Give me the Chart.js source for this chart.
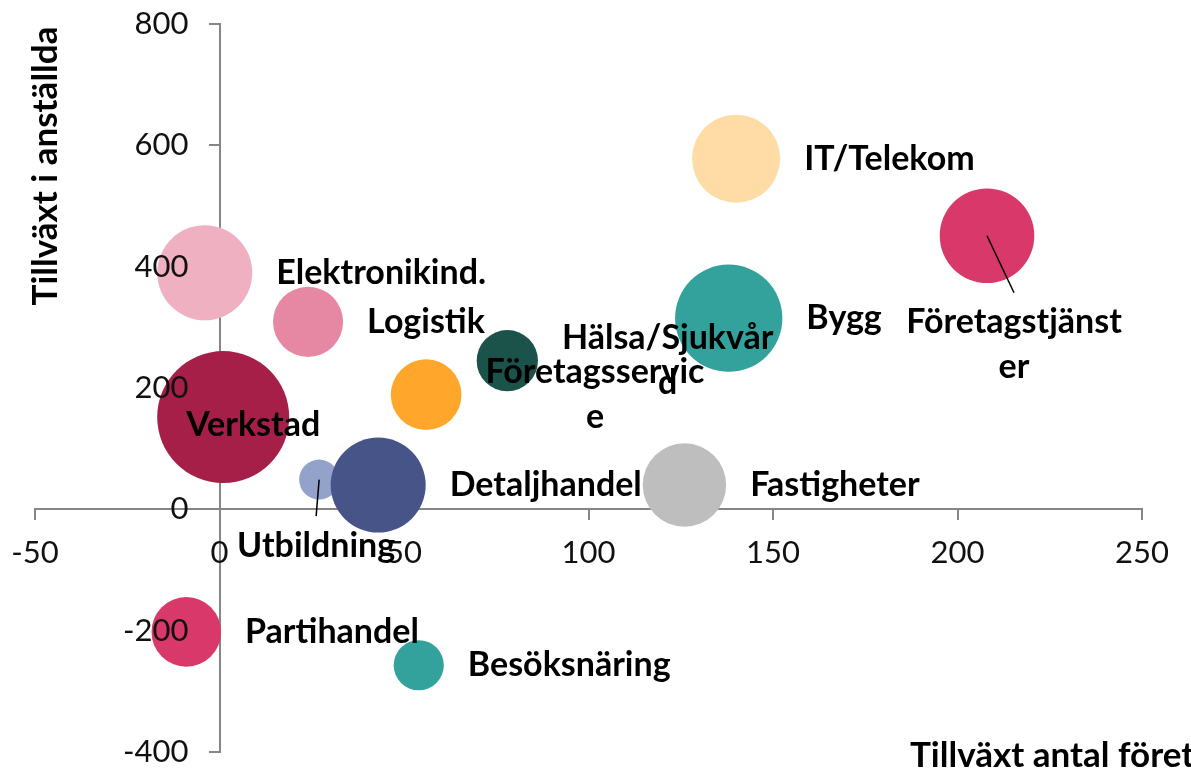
<!DOCTYPE html>
<html>
<head>
<meta charset="utf-8">
<script src="https://cdn.jsdelivr.net/npm/chart.js@4/dist/chart.umd.min.js"></script>
<style>
  html, body { margin: 0; padding: 0; background: #fff; }
  #wrap { width: 1191px; height: 769px; }
</style>
</head>
<body>
<div id="wrap"><canvas id="bubble-chart" width="1191" height="769"></canvas></div>
<script>
// sectors in drawing order
const sectors = ['Verkstad', 'Elektronikind.', 'Logistik', 'Utbildning', 'Detaljhandel',
    'Företagsservice', 'Hälsa/Sjukvård', 'Bygg', 'IT/Telekom', 'Företagstjänster',
    'Fastigheter', 'Partihandel', 'Besöksnäring'];
// label text as wrapped in the original
const sectorLabels = ['Verkstad', 'Elektronikind.', 'Logistik', 'Utbildning', 'Detaljhandel',
    'Företagsservic\ne', 'Hälsa/Sjukvår\nd', 'Bygg', 'IT/Telekom', 'Företagstjänst\ner',
    'Fastigheter', 'Partihandel', 'Besöksnäring'];
const companyGrowth = [1, -4, 24, 27, 43, 56, 78, 138, 140, 208, 126, -9, 54];
const employeeGrowth = [152, 390, 309, 49, 40, 189, 245, 315, 578, 451, 40, -202, -257];
const bubbleSize = [436, 226, 123, 40, 226, 125, 94, 288, 194, 224, 174, 121, 63];
const bubbleColors = ['#A51F48', '#EFB0C2', '#E688A3', '#93A2CB', '#465487',
    '#FFA62B', '#1B5249', '#33A29C', '#FFDBA6', '#D8386A',
    '#BEBEBE', '#D8386A', '#33A29C'];
const xTicks = [-50, 0, 50, 100, 150, 200, 250];
const yTicks = [-400, -200, 0, 200, 400, 600, 800];

const xTitle = 'Tillväxt antal företag';
const yTitle = 'Tillväxt i anställda';

const MAX_RADIUS = 66;
const AXIS_COLOR = '#868686';
const FONT = 'Lato';

const maxSize = Math.max(...bubbleSize);
const points = companyGrowth.map((x, i) => ({
    x: x,
    y: employeeGrowth[i],
    r: MAX_RADIUS * Math.sqrt(bubbleSize[i] / maxSize)
}));

// labels that were dragged away from their bubble in the original
const movedLabels = {
    'Verkstad': { dx: 30, dy: 8, leader: false },
    'Utbildning': { dx: -3, dy: 66, leader: true },
    'Företagstjänster': { dx: 27, dy: 109, leader: true }
};

// axes sit inside the plot, so they must not take any layout space
const noSpace = s => {
    if (s.isHorizontal()) s.height = 0; else s.width = 0;
    s.paddingLeft = s.paddingRight = s.paddingTop = s.paddingBottom = 0;
};

const bubbleLabels = {
    id: 'bubbleLabels',
    afterDatasetsDraw(chart) {
        // y tick labels, left of the y axis which crosses at x = 0
        const ctx = chart.ctx;
        const axisX = chart.scales.x.getPixelForValue(0);
        ctx.save();
        ctx.font = '31px ' + FONT;
        ctx.fillStyle = '#111';
        ctx.textAlign = 'right';
        ctx.textBaseline = 'middle';
        yTicks.forEach(v => {
            ctx.fillText(String(v), axisX - 31, chart.scales.y.getPixelForValue(v));
        });
        ctx.restore();
    },
    afterDraw(chart) {
        const ctx = chart.ctx;
        const meta = chart.getDatasetMeta(0);
        const lineHeight = 45;
        ctx.save();
        ctx.font = 'bold 34px ' + FONT;
        ctx.fillStyle = '#000';
        ctx.textAlign = 'center';
        ctx.textBaseline = 'middle';
        meta.data.forEach((el, i) => {
            const lines = sectorLabels[i].split('\n');
            const blockW = Math.max(...lines.map(l => ctx.measureText(l).width));
            const r = points[i].r;
            let cx = el.x + r + 24 + blockW / 2;
            let cy = el.y;
            const moved = movedLabels[sectors[i]];
            if (moved) {
                cx = el.x + moved.dx;
                cy = el.y + moved.dy;
                if (moved.leader) {
                    const top = cy - lines.length * lineHeight / 2 - 7;
                    ctx.beginPath();
                    ctx.strokeStyle = '#000';
                    ctx.lineWidth = 1.5;
                    ctx.moveTo(el.x, el.y);
                    ctx.lineTo(cx, top);
                    ctx.stroke();
                }
            }
            lines.forEach((line, j) => {
                ctx.fillText(line, cx, cy + (j - (lines.length - 1) / 2) * lineHeight);
            });
        });

        // axis titles
        ctx.font = 'bold 35px ' + FONT;
        ctx.textAlign = 'left';
        ctx.fillText(xTitle, 910, 756);
        ctx.translate(46, 166);
        ctx.rotate(-Math.PI / 2);
        ctx.textAlign = 'center';
        ctx.fillText(yTitle, 0, 0);
        ctx.restore();
    }
};

new Chart(document.getElementById('bubble-chart'), {
    type: 'bubble',
    data: {
        labels: sectors,
        datasets: [{
            data: points,
            backgroundColor: bubbleColors,
            borderWidth: 0,
            clip: false
        }]
    },
    options: {
        responsive: false,
        animation: false,
        layout: { autoPadding: false, padding: { left: 35, right: 49, top: 24, bottom: 17 } },
        plugins: {
            legend: { display: false },
            tooltip: { enabled: false }
        },
        scales: {
            x: {
                type: 'linear',
                position: { y: 0 },
                min: xTicks[0],
                max: xTicks[xTicks.length - 1],
                afterBuildTicks: s => { s.ticks = xTicks.map(v => ({ value: v })); },
                afterFit: noSpace,
                grid: { drawOnChartArea: false, color: AXIS_COLOR, lineWidth: 2, tickLength: 10 },
                border: { color: AXIS_COLOR, width: 2 },
                ticks: { z: 1, color: '#111', font: { family: FONT, size: 31 }, padding: 15, autoSkip: false, maxRotation: 0 }
            },
            y: {
                type: 'linear',
                position: { x: 0 },
                min: yTicks[0],
                max: yTicks[yTicks.length - 1],
                afterBuildTicks: s => { s.ticks = yTicks.map(v => ({ value: v })); },
                afterFit: noSpace,
                grid: { drawOnChartArea: false, color: AXIS_COLOR, lineWidth: 2, tickLength: 10 },
                border: { color: AXIS_COLOR, width: 2 },
                ticks: { display: false }
            }
        }
    },
    plugins: [bubbleLabels]
});
</script>
</body>
</html>
